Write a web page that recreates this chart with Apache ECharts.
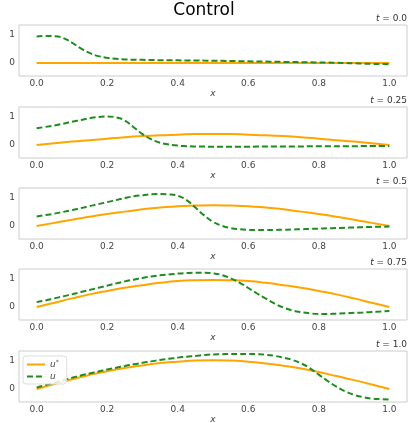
<!DOCTYPE html>
<html>
<head>
<meta charset="utf-8">
<script src="https://cdn.jsdelivr.net/npm/echarts@6/dist/echarts.min.js"></script>
<style>html,body{margin:0;padding:0;background:#fff;}#c{width:408px;height:423px;}</style>
</head>
<body>
<div id="c"></div>
<script>
var xFine = [0,0.025,0.05,0.075,0.1,0.125,0.15,0.175,0.2,0.225,0.25,0.275,0.3,0.325,0.35,0.375,0.4,0.425,0.45,0.475,0.5,0.525,0.55,0.575,0.6,0.625,0.65,0.675,0.7,0.725,0.75,0.775,0.8,0.825,0.85,0.875,0.9,0.925,0.95,0.975,1];
var xCoarse = [0,0.05,0.1,0.15,0.2,0.25,0.3,0.35,0.4,0.45,0.5,0.55,0.6,0.65,0.7,0.75,0.8,0.85,0.9,0.95,1];
var xTicks = [0,0.2,0.4,0.6,0.8,1.0];
var yTicks = [0,1];
var timeLabels = ['0.0','0.25','0.5','0.75','1.0'];

// target u* (orange, solid) on xCoarse
var uStar_t0   = [0,0,0,0,0,0,0,0,0,0,0,0,0,0,0,0,0,0,0,0,0];
var uStar_t025 = [0,0.06,0.12,0.17,0.22,0.27,0.31,0.34,0.36,0.38,0.38,0.38,0.36,0.34,0.31,0.27,0.22,0.17,0.12,0.06,0];
var uStar_t05  = [0,0.11,0.22,0.32,0.42,0.50,0.58,0.64,0.69,0.71,0.72,0.71,0.69,0.64,0.58,0.50,0.42,0.32,0.22,0.11,0];
var uStar_t075 = [0,0.15,0.30,0.44,0.56,0.67,0.76,0.84,0.90,0.93,0.94,0.93,0.90,0.84,0.76,0.67,0.56,0.44,0.30,0.15,0];
var uStar_t1   = [0,0.17,0.34,0.49,0.62,0.73,0.82,0.90,0.95,0.99,1.0,0.99,0.95,0.89,0.81,0.71,0.59,0.45,0.31,0.16,0];

// controlled u (green, dashed) on xFine
var u_t0   = [0.92,0.94,0.93,0.87,0.71,0.51,0.35,0.24,0.18,0.145,0.125,0.115,0.11,0.105,0.10,0.10,0.095,0.09,0.09,0.085,0.08,0.075,0.07,0.065,0.06,0.055,0.05,0.045,0.04,0.035,0.03,0.025,0.02,0.015,0.01,0.0,-0.01,-0.02,-0.03,-0.035,-0.04];
var u_t025 = [0.58,0.63,0.68,0.74,0.81,0.87,0.93,0.97,0.99,0.96,0.85,0.62,0.38,0.20,0.08,0.02,-0.02,-0.04,-0.05,-0.055,-0.06,-0.06,-0.06,-0.06,-0.06,-0.055,-0.055,-0.05,-0.05,-0.05,-0.05,-0.045,-0.045,-0.045,-0.04,-0.04,-0.04,-0.035,-0.035,-0.03,-0.03];
var u_t05  = [0.33,0.38,0.43,0.49,0.55,0.62,0.69,0.76,0.83,0.90,0.97,1.03,1.07,1.10,1.11,1.10,1.05,0.90,0.64,0.37,0.15,0.01,-0.07,-0.11,-0.13,-0.14,-0.14,-0.135,-0.13,-0.12,-0.11,-0.10,-0.09,-0.08,-0.07,-0.06,-0.05,-0.04,-0.03,-0.025,-0.02];
var u_t075 = [0.17,0.23,0.30,0.37,0.44,0.52,0.59,0.67,0.74,0.82,0.89,0.95,1.01,1.06,1.10,1.13,1.16,1.18,1.19,1.19,1.17,1.11,1.00,0.85,0.66,0.47,0.29,0.12,-0.02,-0.12,-0.18,-0.22,-0.24,-0.24,-0.23,-0.22,-0.20,-0.19,-0.17,-0.155,-0.14];
var u_t1   = [0.05,0.14,0.22,0.31,0.39,0.47,0.54,0.61,0.68,0.74,0.80,0.86,0.91,0.96,1.01,1.05,1.09,1.12,1.15,1.18,1.20,1.21,1.22,1.22,1.22,1.21,1.19,1.15,1.09,1.01,0.89,0.72,0.50,0.28,0.08,-0.08,-0.20,-0.28,-0.33,-0.35,-0.36];

var uStarAll = [uStar_t0, uStar_t025, uStar_t05, uStar_t075, uStar_t1];
var uAll = [u_t0, u_t025, u_t05, u_t075, u_t1];

var ORANGE = '#FFA500', GREEN = '#1e8c1e';
var FONT = 'DejaVu Sans';
var tops = [25, 107, 188, 269, 351];
var H = 51;

var grids = [], xAxes = [], yAxes = [], series = [], titles = [];
titles.push({text:'Control', left:'center', top:2, padding:0,
  textStyle:{fontFamily:FONT, fontSize:17, fontWeight:'normal', color:'#000'}});
for (var i = 0; i < 5; i++) {
  grids.push({left:19, right:1, top:tops[i], height:H, show:true, borderColor:'#cccccc', borderWidth:1, backgroundColor:'#fff',
    containLabel:false, outerBoundsMode:'none'});
  xAxes.push({type:'value', gridIndex:i, min:-0.05, max:1.05,
    axisLine:{show:false}, axisTick:{show:false}, splitLine:{show:false},
    axisLabel:{customValues:xTicks, margin:3, fontFamily:FONT, fontSize:9, color:'#444',
      formatter:function(v){return v.toFixed(1);}},
    name:'x', nameLocation:'middle', nameGap:9,
    nameTextStyle:{fontFamily:FONT, fontSize:9, fontStyle:'italic', color:'#444'}});
  yAxes.push({type:'value', gridIndex:i, min:-0.45, max:1.32,
    axisLine:{show:false}, axisTick:{show:false}, splitLine:{show:false},
    axisLabel:{customValues:yTicks, margin:4, fontFamily:FONT, fontSize:9, color:'#444',
      formatter:function(v){return String(Math.round(v));}},
    name:'u', nameLocation:'middle', nameGap:10, nameRotate:90,
    nameTextStyle:{fontFamily:FONT, fontSize:9, fontStyle:'italic', color:'#444'}});
  titles.push({text:'{i|t} = ' + timeLabels[i], right:1, top:tops[i]-11, padding:0,
    textStyle:{fontFamily:FONT, fontSize:9, fontWeight:'normal', color:'#333',
      rich:{i:{fontFamily:FONT, fontSize:9, fontStyle:'italic', color:'#333'}}}});
  (function(idx){
    series.push({type:'line', name:'u*', xAxisIndex:idx, yAxisIndex:idx,
      data: xCoarse.map(function(x,j){return [x, uStarAll[idx][j]];}),
      symbol:'none', smooth:0.5, z:2, silent:true,
      lineStyle:{color:ORANGE, width:2}, itemStyle:{color:ORANGE}});
    series.push({type:'line', name:'u', xAxisIndex:idx, yAxisIndex:idx,
      data: xFine.map(function(x,j){return [x, uAll[idx][j]];}),
      symbol:'none', smooth:0.5, z:3, silent:true,
      lineStyle:{color:GREEN, width:2, type:[6,3]}, itemStyle:{color:GREEN}});
  })(i);
}

var chart = echarts.init(document.getElementById('c'), null, {renderer:'canvas'});
chart.setOption({
  animation:false,
  backgroundColor:'#fff',
  title: titles,
  grid: grids,
  xAxis: xAxes,
  yAxis: yAxes,
  legend:{data:['u*','u'], orient:'vertical', left:23, top:356, itemWidth:18, itemHeight:8, itemGap:3,
    padding:[3,8,3,3], borderColor:'#dddddd', borderWidth:1, borderRadius:3, backgroundColor:'rgba(255,255,255,0.85)',
    itemStyle:{opacity:0},
    textStyle:{fontFamily:FONT, fontSize:9, color:'#444',
      rich:{i:{fontFamily:FONT, fontSize:9, fontStyle:'italic', color:'#444'},
            s:{fontFamily:FONT, fontSize:6, color:'#444', padding:[0,0,5,0]}}},
    formatter:function(n){return n === 'u*' ? '{i|u}{s|*}' : '{i|u}';}},
  series: series
});
</script>
</body>
</html>
